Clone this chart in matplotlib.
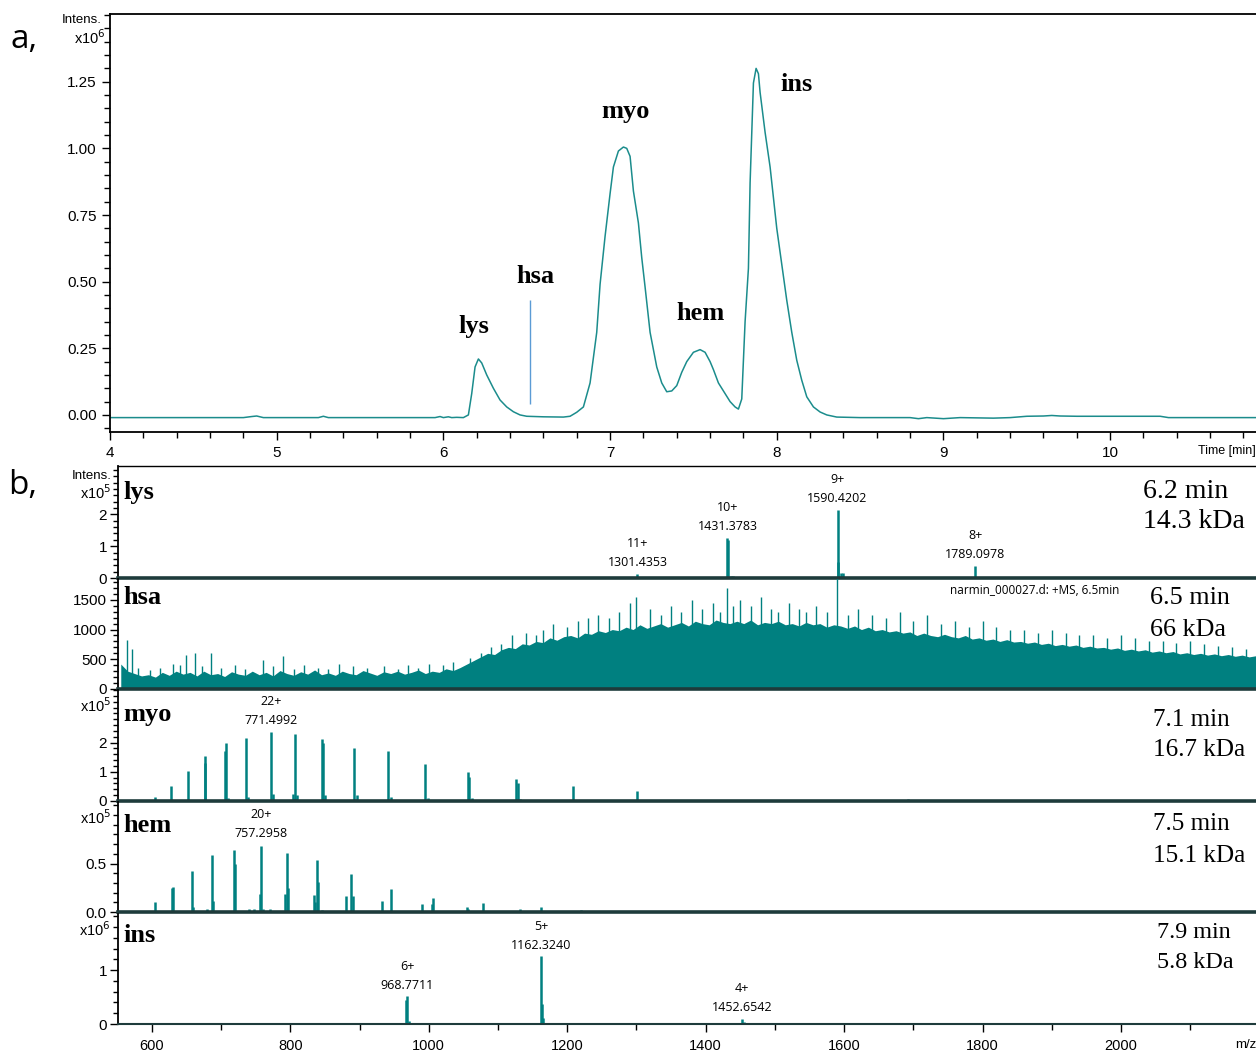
import numpy as np
import matplotlib
matplotlib.use("Agg")
import matplotlib.pyplot as plt
from matplotlib.ticker import MultipleLocator, FixedLocator

plt.rcParams['font.family'] = ['Liberation Sans', 'DejaVu Sans']

# ---- chromatogram (a): time [min], intensity [x1e6] ----
chrom_t = [4.0, 4.8, 4.85, 4.88, 4.92, 5.25, 5.28, 5.31, 5.95, 5.98, 6.0, 6.03, 6.05, 6.08,
           6.12, 6.15, 6.17, 6.19, 6.21, 6.23, 6.26, 6.30, 6.34, 6.38, 6.42, 6.46, 6.5, 6.6,
           6.72, 6.76, 6.80, 6.84, 6.88, 6.92, 6.94, 6.97, 7.0, 7.02, 7.05, 7.08, 7.10, 7.12,
           7.14, 7.17, 7.19, 7.21, 7.24, 7.28, 7.31, 7.34, 7.37, 7.40, 7.43, 7.46, 7.50, 7.54,
           7.57, 7.60, 7.62, 7.65, 7.68, 7.72, 7.75, 7.77, 7.79, 7.81, 7.83, 7.84, 7.86, 7.876,
           7.89, 7.90, 7.93, 7.96, 8.0, 8.04, 8.06, 8.09, 8.12, 8.15, 8.18, 8.22, 8.26, 8.30,
           8.36, 8.5, 8.8, 8.85, 8.9, 9.0, 9.1, 9.3, 9.4, 9.5, 9.6, 9.65, 9.7, 9.8, 10.3,
           10.35, 10.9]
chrom_i = [-0.010, -0.010, -0.006, -0.004, -0.010, -0.010, -0.005, -0.010, -0.010, -0.006,
           -0.010, -0.007, -0.010, -0.009, -0.010, 0.0, 0.08, 0.18, 0.21, 0.195, 0.15, 0.10,
           0.056, 0.03, 0.012, 0.0, -0.005, -0.007, -0.008, -0.005, 0.01, 0.03, 0.12, 0.31,
           0.49, 0.67, 0.83, 0.93, 0.99, 1.005, 1.00, 0.97, 0.84, 0.72, 0.59, 0.48, 0.31, 0.18,
           0.12, 0.087, 0.09, 0.11, 0.16, 0.20, 0.235, 0.245, 0.235, 0.20, 0.17, 0.12, 0.09,
           0.05, 0.03, 0.022, 0.06, 0.35, 0.55, 0.87, 1.245, 1.30, 1.28, 1.21, 1.06, 0.93,
           0.70, 0.52, 0.43, 0.31, 0.205, 0.13, 0.068, 0.03, 0.011, 0.0, -0.008, -0.010,
           -0.010, -0.014, -0.010, -0.014, -0.010, -0.012, -0.010, -0.005, -0.004, -0.002,
           -0.004, -0.005, -0.005, -0.010, -0.010]
hsa_marker_t = 6.52
peak_names = ['lys', 'hsa', 'myo', 'hem', 'ins']

# ---- mass spectra (b): m/z and intensity in the panel's own units ----
lys_mz = [1301.44, 1431.38, 1432.6, 1436.0, 1440.0, 1590.42, 1591.6, 1595.0, 1599.0, 1789.10]
lys_int = [0.12, 1.26, 1.18, 0.06, 0.05, 2.15, 0.50, 0.15, 0.15, 0.38]
lys_labels = [(1301.44, 0.12, '11+\n1301.4353'), (1431.38, 1.26, '10+\n1431.3783'),
              (1590.42, 2.15, '9+\n1590.4202'), (1789.10, 0.38, '8+\n1789.0978')]

hsa_mz0, hsa_step = 555, 10
hsa_level = [420, 300, 260, 220, 240, 200, 280, 230, 300, 250,
             280, 220, 300, 240, 260, 210, 290, 250, 230, 300,
             240, 280, 220, 310, 260, 230, 290, 250, 320, 240,
             270, 230, 300, 260, 240, 310, 270, 230, 290, 260,
             300, 250, 280, 320, 260, 300, 280, 340, 310, 360,
             420, 480, 540, 600, 580, 660, 700, 680, 760, 740,
             800, 780, 860, 820, 880, 900, 860, 940, 920, 980,
             950, 1000, 980, 1040, 1000, 1080, 1020, 1060, 1100, 1040,
             1080, 1120, 1060, 1140, 1100, 1080, 1160, 1120, 1100, 1140,
             1100, 1160, 1080, 1120, 1100, 1140, 1080, 1100, 1060, 1120,
             1080, 1100, 1040, 1080, 1060, 1020, 1060, 1000, 1040, 980,
             1000, 960, 980, 940, 960, 900, 940, 900, 880, 920,
             880, 860, 900, 840, 860, 820, 840, 800, 830, 790,
             800, 770, 790, 750, 770, 730, 750, 720, 740, 700,
             720, 690, 700, 670, 690, 650, 670, 640, 660, 620,
             640, 610, 630, 590, 610, 580, 600, 570, 590, 560,
             580, 550, 570, 540, 560]
hsa_spike_mz = [564, 571, 580, 597, 612, 630, 640, 649, 662, 672, 686, 700, 720, 735, 760,
                775, 790, 805, 820, 840, 855, 870, 890, 910, 935, 955, 970, 985, 1000, 1020,
                1035, 1060, 1075, 1090, 1105, 1120, 1140, 1155, 1165, 1180, 1200, 1215, 1230,
                1245, 1260, 1275, 1290, 1300, 1320, 1335, 1350, 1365, 1380, 1395, 1410, 1420,
                1431, 1440, 1450, 1465, 1480, 1495, 1505, 1520, 1535, 1545, 1560, 1575, 1590,
                1605, 1620, 1640, 1660, 1680, 1700, 1720, 1740, 1760, 1780, 1800, 1820, 1840,
                1860, 1880, 1900, 1920, 1940, 1960, 1980, 2000, 2020, 2040, 2060, 2080, 2100,
                2120, 2140, 2160, 2180]
hsa_spike_int = [820, 680, 350, 320, 360, 420, 400, 580, 600, 380, 600, 350, 400, 330, 480,
                 380, 560, 340, 400, 360, 330, 420, 380, 350, 380, 340, 400, 360, 420, 400,
                 450, 520, 600, 700, 750, 900, 950, 900, 1000, 1100, 1050, 1150, 1200,
                 1250, 1200, 1300, 1450, 1550, 1350, 1250, 1400, 1300, 1500, 1350, 1450, 1300,
                 1700, 1400, 1500, 1400, 1550, 1350, 1300, 1450, 1350, 1300, 1400, 1300, 1900,
                 1250, 1350, 1250, 1200, 1300, 1150, 1250, 1100, 1150, 1050, 1150, 1050, 1000,
                 1000, 950, 1000, 950, 900, 900, 850, 900, 850, 800, 800, 780, 800,
                 750, 720, 700, 680]

myo_mz = [604.3, 627.0, 652.4, 676.0, 677.0, 706.0, 707.0, 709.5, 735.7, 738.5, 771.5, 774.5,
          804.5, 806.0, 809.0, 845.0, 847.0, 850.0, 891.7, 896.0, 940.4, 945.0, 995.0, 999.0,
          1056.8, 1058.5, 1062.0, 1126.6, 1128.5, 1132.0, 1208.4, 1300.4, 1408.7, 1691.7]
myo_int = [0.12, 0.52, 1.02, 1.30, 1.53, 1.70, 1.97, 0.10, 2.15, 0.15, 2.35, 0.25,
           0.25, 2.28, 0.22, 2.12, 1.98, 0.22, 1.80, 0.20, 1.70, 0.15, 1.26, 0.10,
           0.98, 0.82, 0.10, 0.74, 0.62, 0.06, 0.53, 0.35, 0.05, 0.08]
myo_labels = [(771.5, 2.35, '22+\n771.4992')]

hem_mz = [604.3, 629.0, 630.5, 657.4, 659.0, 680.0, 686.7, 688.5, 718.5, 720.5, 740.0, 747.0,
          755.5, 757.3, 760.0, 770.0, 792.5, 794.7, 796.5, 834.5, 836.0, 838.0, 840.0, 845.0,
          880.0, 887.6, 890.0, 932.0, 945.0, 989.7, 1004.5, 1006.5, 1054.8, 1056.5, 1077.9,
          1131.8, 1161.7, 1219.5]
hem_int = [0.108, 0.25, 0.257, 0.42, 0.05, 0.03, 0.59, 0.11, 0.64, 0.50, 0.03, 0.03,
           0.19, 0.685, 0.03, 0.03, 0.19, 0.61, 0.25, 0.18, 0.10, 0.54, 0.31, 0.02,
           0.16, 0.39, 0.16, 0.11, 0.24, 0.08, 0.08, 0.14, 0.055, 0.03, 0.09,
           0.035, 0.055, 0.02]
hem_labels = [(757.3, 0.685, '20+\n757.2958')]

ins_mz = [966.5, 968.77, 971.5, 1162.32, 1163.8, 1165.5, 1452.65, 1455.0]
ins_int = [0.45, 0.52, 0.05, 1.26, 0.37, 0.12, 0.10, 0.03]
ins_labels = [(968.77, 0.52, '6+\n968.7711'), (1162.32, 1.26, '5+\n1162.3240'),
              (1452.65, 0.10, '4+\n1452.6542')]

rt_text = ['6.2 min', '6.5 min', '7.1 min', '7.5 min', '7.9 min']
mass_text = ['14.3 kDa', '66 kDa', '16.7 kDa', '15.1 kDa', '5.8 kDa']

TEAL = '#008080'
DARK = '#1e3b3b'
W, H = 1256, 1054


def fx(x):
    return x / W


def fy(y):
    return 1 - y / H


fig = plt.figure(figsize=(W / 100, H / 100), dpi=100)

# ================= panel a =================
ax = fig.add_axes([fx(110), fy(432), fx(W - 110), (432 - 14) / H])
ax.plot(chrom_t, chrom_i, color='#1b8c8c', lw=1.1)
ax.vlines(hsa_marker_t, 0.04, 0.43, color='#5b9bd5', lw=1.0)
ax.set_xlim(4, 10.875)
ax.set_ylim(-0.064, 1.504)
ax.spines['right'].set_visible(False)
for s in ['top', 'left', 'bottom']:
    ax.spines[s].set_linewidth(1.3)
ax.xaxis.set_major_locator(FixedLocator([4, 5, 6, 7, 8, 9, 10]))
ax.xaxis.set_minor_locator(MultipleLocator(0.2))
ax.yaxis.set_major_locator(FixedLocator([0, 0.25, 0.5, 0.75, 1.0, 1.25]))
ax.yaxis.set_minor_locator(MultipleLocator(0.05))
ax.set_yticklabels(['0.00', '0.25', '0.50', '0.75', '1.00', '1.25'])
ax.tick_params(which='major', length=6, width=1, labelsize=11)
ax.tick_params(which='minor', length=4, width=1)
ax.tick_params(axis='x', pad=4)

name_pos = [(6.18, 0.33), (6.55, 0.52), (7.09, 1.14), (7.54, 0.38), (8.12, 1.24)]
for name, (tx, ty) in zip(peak_names, name_pos):
    ax.text(tx, ty, name, ha='center', va='center', fontsize=19, fontweight='bold',
            family='Liberation Serif')

fig.text(fx(62), fy(20), 'Intens.', fontsize=9.5, va='center', ha='left')
fig.text(fx(106), fy(38), r'x10$^6$', fontsize=10.5, va='center', ha='right')
fig.text(fx(1256), fy(451), 'Time [min]', fontsize=9, va='center', ha='right')
fig.text(fx(10), fy(40), 'a,', fontsize=24, va='center', ha='left', family='Open Sans')
fig.text(fx(8), fy(485), 'b,', fontsize=24, va='center', ha='left', family='Open Sans')

# ================= panel b =================
bounds = [(466, 578), (579, 689), (690, 801), (802, 912), (914, 1024)]
ylims = [3.52, 1850, 3.8, 1.135, 2.04]
majors = [[0, 1, 2], [0, 500, 1000, 1500], [0, 1, 2], [0.0, 0.5], [0, 1]]
major_lbl = [['0', '1', '2'], ['0', '500', '1000', '1500'], ['0', '1', '2'],
             ['0.0', '0.5'], ['0', '1']]
minors = [0.2, 100, 0.2, 0.1, 0.2]
mults = ['x10$^5$', None, 'x10$^5$', 'x10$^5$', 'x10$^6$']
mult_y = [493, None, 706, 818, 930]
spectra = [(lys_mz, lys_int, lys_labels), (None, None, []), (myo_mz, myo_int, myo_labels),
           (hem_mz, hem_int, hem_labels), (ins_mz, ins_int, ins_labels)]
label_off = [[3.5, 3.5, 3.5, 3.5], [], [3.5], [4], [3, 3, 3]]
rt_pos = [(1143, 492, 521), (1150, 598, 630), (1153, 720, 750), (1153, 824, 856),
          (1157, 932, 963)]
rt_size = [20, 18.8, 18.1, 18.1, 17.4]
name_y = [493, 597, 714, 826, 935]

for k in range(5):
    top, bot = bounds[k]
    a = fig.add_axes([fx(118), fy(bot), fx(W - 118), (bot - top) / H])
    a.set_xlim(551, 2195)
    a.set_ylim(0, ylims[k])
    a.set_facecolor('none')
    mz, inten, labels = spectra[k]
    if k == 1:
        hsa_mz = hsa_mz0 + hsa_step * np.arange(len(hsa_level))
        a.fill_between(hsa_mz, 0, hsa_level, color=TEAL, lw=0)
        a.vlines(hsa_spike_mz, 0, hsa_spike_int, color=TEAL, lw=1.0)
    else:
        a.vlines(mz, 0, inten, color=TEAL, lw=1.8)
    for (lx, ly, txt), off in zip(labels, label_off[k]):
        a.annotate(txt, xy=(lx, ly), xytext=(0, off), textcoords='offset points',
                   ha='center', va='bottom', fontsize=9, family='Open Sans',
                   linespacing=1.6)
    a.spines['right'].set_visible(False)
    a.spines['top'].set_visible(k == 0)
    a.spines['top'].set_linewidth(1.0)
    a.spines['left'].set_linewidth(1.3)
    a.spines['bottom'].set_linewidth(2.6 if k < 4 else 1.5)
    a.spines['bottom'].set_color(DARK)
    a.yaxis.set_major_locator(FixedLocator(majors[k]))
    a.yaxis.set_minor_locator(MultipleLocator(minors[k]))
    a.set_yticklabels(major_lbl[k])
    a.tick_params(axis='y', which='major', length=6, width=1, labelsize=11, pad=2)
    a.tick_params(axis='y', which='minor', length=3.5, width=1)
    if k < 4:
        a.tick_params(axis='x', which='both', bottom=False, labelbottom=False)
    else:
        a.xaxis.set_major_locator(FixedLocator([600, 800, 1000, 1200, 1400, 1600, 1800, 2000]))
        a.xaxis.set_minor_locator(MultipleLocator(100))
        a.tick_params(axis='x', which='major', length=6, width=1, labelsize=10.5, pad=5)
        a.tick_params(axis='x', which='minor', length=4, width=1)
    fig.text(fx(123), fy(name_y[k]), peak_names[k], fontsize=19, fontweight='bold',
             family='Liberation Serif', ha='left', va='center')
    if mults[k]:
        fig.text(fx(111), fy(mult_y[k]), mults[k], fontsize=10.5, ha='right', va='center')
    rx, ry1, ry2 = rt_pos[k]
    fig.text(fx(rx), fy(ry1), rt_text[k], fontsize=rt_size[k], family='Liberation Serif',
             ha='left', va='center')
    fig.text(fx(rx), fy(ry2), mass_text[k], fontsize=rt_size[k], family='Liberation Serif',
             ha='left', va='center')

fig.text(fx(72), fy(476), 'Intens.', fontsize=9.5, ha='left', va='center')
fig.text(fx(950), fy(590), 'narmin_000027.d: +MS, 6.5min', fontsize=8.5,
         family='Open Sans', ha='left', va='center')
fig.text(fx(1256), fy(1045), 'm/z', fontsize=9.5, ha='right', va='center')

fig.savefig('out.png', dpi=100)
